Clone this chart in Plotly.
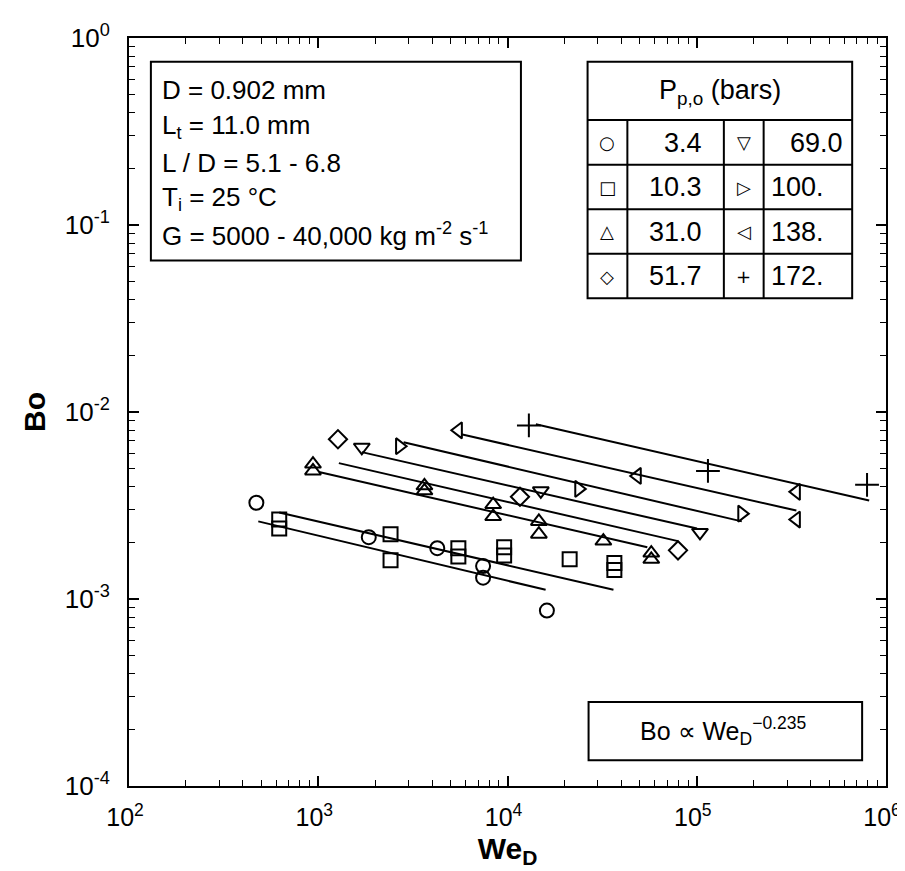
import plotly.graph_objects as go

# ---------------- data ----------------
pressures = ["3.4", "10.3", "31.0", "51.7", "69.0", "100.", "138.", "172."]
symbols = ["circle-open", "square-open", "triangle-up-open", "diamond-open",
           "triangle-down-open", "triangle-right-open", "triangle-left-open", "cross-thin-open"]

we_p034 = [471, 1849, 4255, 7430, 7430, 16150]
bo_p034 = [3.27e-3, 2.14e-3, 1.87e-3, 1.50e-3, 1.30e-3, 8.67e-4]

we_p103 = [622, 622, 2410, 2410, 5500, 5500, 9600, 9600, 21300, 36700, 36700]
bo_p103 = [2.66e-3, 2.38e-3, 2.22e-3, 1.61e-3, 1.87e-3, 1.69e-3, 1.89e-3, 1.71e-3, 1.63e-3, 1.56e-3, 1.43e-3]

we_p310 = [938, 938, 3640, 3640, 8400, 8400, 14650, 14650, 32100, 57500, 57500]
bo_p310 = [5.27e-3, 4.84e-3, 4.03e-3, 3.79e-3, 3.20e-3, 2.76e-3, 2.60e-3, 2.22e-3, 2.04e-3, 1.76e-3, 1.63e-3]

we_p517 = [1271, 11640, 79600]
bo_p517 = [7.15e-3, 3.52e-3, 1.82e-3]

we_p690 = [1699, 15000, 104000]
bo_p690 = [6.48e-3, 3.79e-3, 2.27e-3]

we_p100 = [2690, 23800, 173000]
bo_p100 = [6.56e-3, 3.88e-3, 2.86e-3]

we_p138 = [5500, 48500, 336000, 336000]
bo_p138 = [7.98e-3, 4.55e-3, 3.74e-3, 2.66e-3]

we_p172 = [12970, 114600, 794000]
bo_p172 = [8.48e-3, 4.84e-3, 4.08e-3]

# fitted lines (Bo ~ We^-0.235), endpoints
fit_we_start = [482, 622, 1009, 1285, 1699, 2825, 5700, 14120]
fit_bo_start = [2.60e-3, 2.90e-3, 4.78e-3, 5.33e-3, 6.10e-3, 6.89e-3, 7.60e-3, 8.59e-3]
fit_we_end = [15900, 36300, 54800, 79600, 100300, 173000, 336000, 815000]
fit_bo_end = [1.12e-3, 1.12e-3, 1.89e-3, 2.04e-3, 2.38e-3, 2.60e-3, 2.97e-3, 3.36e-3]

x_tick_vals = [1e2, 1e3, 1e4, 1e5, 1e6]
x_tick_text = ["10<sup>2</sup>", "10<sup>3</sup>", "10<sup>4</sup>", "10<sup>5</sup>", "10<sup>6</sup>"]
y_tick_vals = [1e-4, 1e-3, 1e-2, 1e-1, 1e0]
y_tick_text = ["10<sup>-4</sup>", "10<sup>-3</sup>", "10<sup>-2</sup>", "10<sup>-1</sup>", "10<sup>0</sup>"]

info_lines = ["D = 0.902 mm", "L<sub>t</sub> = 11.0 mm", "L / D = 5.1 - 6.8",
              "T<sub>i</sub> = 25 °C", "G = 5000 - 40,000 kg m<sup>-2</sup> s<sup>-1</sup>"]
table_symbols_left = ["○", "□", "△", "◇"]
table_symbols_right = ["▽", "▷", "◁", "+"]

# ---------------- figure ----------------
W, H = 905, 871
L, R, T, B = 121, 882, 22, 778
FONT = "Liberation Sans, Arial, Helvetica, sans-serif"


def px(x):
    return (x - L) / (R - L)


def py(y):
    return (B - y) / (B - T)


fig = go.Figure()

series_we = [we_p034, we_p103, we_p310, we_p517, we_p690, we_p100, we_p138, we_p172]
series_bo = [bo_p034, bo_p103, bo_p310, bo_p517, bo_p690, bo_p100, bo_p138, bo_p172]

for i in range(8):
    fig.add_trace(go.Scatter(x=[fit_we_start[i], fit_we_end[i]], y=[fit_bo_start[i], fit_bo_end[i]],
                             mode="lines", line=dict(color="black", width=2), showlegend=False,
                             hoverinfo="skip"))

for i in range(8):
    fig.add_trace(go.Scatter(x=series_we[i], y=series_bo[i], mode="markers",
                             name=pressures[i],
                             marker=dict(symbol=symbols[i], size=14 if i != 7 else 17,
                                         color="black", line=dict(color="black", width=2)),
                             showlegend=False))

axis_common = dict(type="log", showline=True, linewidth=2, linecolor="black", mirror="allticks",
                   ticks="inside", ticklen=10, tickwidth=1.5, tickcolor="black",
                   showgrid=False, zeroline=False,
                   minor=dict(ticks="inside", ticklen=6, tickwidth=1.2, tickcolor="black",
                              dtick="D1", showgrid=False))

fig.update_xaxes(range=[2, 6], tickvals=x_tick_vals, ticktext=x_tick_text, ticklabelstandoff=8,
                 ticklabelshift=-4, tickfont=dict(family=FONT, size=25, color="black"),
                 title=dict(text="<b>We<sub>D</sub></b>", font=dict(family=FONT, size=30, color="black"),
                            standoff=8),
                 **axis_common)
fig.update_yaxes(range=[-4, 0], tickvals=y_tick_vals, ticktext=y_tick_text, ticklabelstandoff=12,
                 tickfont=dict(family=FONT, size=26, color="black"),
                 title=dict(text="<b>Bo</b>", font=dict(family=FONT, size=30, color="black"),
                            standoff=10),
                 **axis_common)

shapes = []
ann = []
blk = dict(color="black", width=2)

# info box (top-left)
shapes.append(dict(type="rect", xref="paper", yref="paper", x0=px(143), x1=px(515), y0=py(247), y1=py(46),
                   line=blk, fillcolor="white"))
for k, t in enumerate(info_lines):
    ann.append(dict(xref="paper", yref="paper", x=px(152), y=py(75 + 36.5 * k), text=t, showarrow=False,
                    xanchor="left", yanchor="middle", font=dict(family=FONT, size=26, color="black")))

# pressure table (top-right)
tx0, tx1, ty0, ty1 = 582, 848, 46, 285
shapes.append(dict(type="rect", xref="paper", yref="paper", x0=px(tx0), x1=px(tx1), y0=py(ty1), y1=py(ty0),
                   line=blk, fillcolor="white"))
for yy in [105, 150, 195, 240]:
    shapes.append(dict(type="line", xref="paper", yref="paper", x0=px(tx0), x1=px(tx1), y0=py(yy), y1=py(yy),
                       line=blk))
for xx in [622, 719, 759]:
    shapes.append(dict(type="line", xref="paper", yref="paper", x0=px(xx), x1=px(xx), y0=py(105), y1=py(ty1),
                       line=blk))
ann.append(dict(xref="paper", yref="paper", x=px(715), y=py(77), text="P<sub>p,o</sub> (bars)",
                showarrow=False, xanchor="center", yanchor="middle",
                font=dict(family=FONT, size=27, color="black")))
for r in range(4):
    yc = py(128 + 45 * r)
    ann.append(dict(xref="paper", yref="paper", x=px(602), y=yc, text=table_symbols_left[r], showarrow=False,
                    xanchor="center", yanchor="middle", font=dict(family="DejaVu Sans", size=18, color="black")))
    ann.append(dict(xref="paper", yref="paper", x=px(699), y=yc, text=pressures[r], showarrow=False,
                    xanchor="right", yanchor="middle", font=dict(family=FONT, size=27, color="black")))
    ann.append(dict(xref="paper", yref="paper", x=px(739), y=yc, text=table_symbols_right[r], showarrow=False,
                    xanchor="center", yanchor="middle", font=dict(family="DejaVu Sans", size=18, color="black")))
    if r == 0:
        ann.append(dict(xref="paper", yref="paper", x=px(841), y=yc, text=pressures[4 + r], showarrow=False,
                        xanchor="right", yanchor="middle", font=dict(family=FONT, size=27, color="black")))
    else:
        ann.append(dict(xref="paper", yref="paper", x=px(764), y=yc, text=pressures[4 + r], showarrow=False,
                        xanchor="left", yanchor="middle", font=dict(family=FONT, size=27, color="black")))

# correlation box (bottom-right)
shapes.append(dict(type="rect", xref="paper", yref="paper", x0=px(583), x1=px(858), y0=py(752), y1=py(693),
                   line=blk, fillcolor="white"))
ann.append(dict(xref="paper", yref="paper", x=px(718), y=py(722),
                text="Bo ∝ We<sub>D</sub><sup>−0.235</sup>", showarrow=False, xanchor="center",
                yanchor="middle", font=dict(family=FONT, size=25, color="black")))

fig.update_layout(width=W, height=H, margin=dict(l=L, r=W - R, t=T, b=H - B),
                  paper_bgcolor="white", plot_bgcolor="white", shapes=shapes, annotations=ann,
                  font=dict(family=FONT, color="black"))

fig.write_html("out.html")
